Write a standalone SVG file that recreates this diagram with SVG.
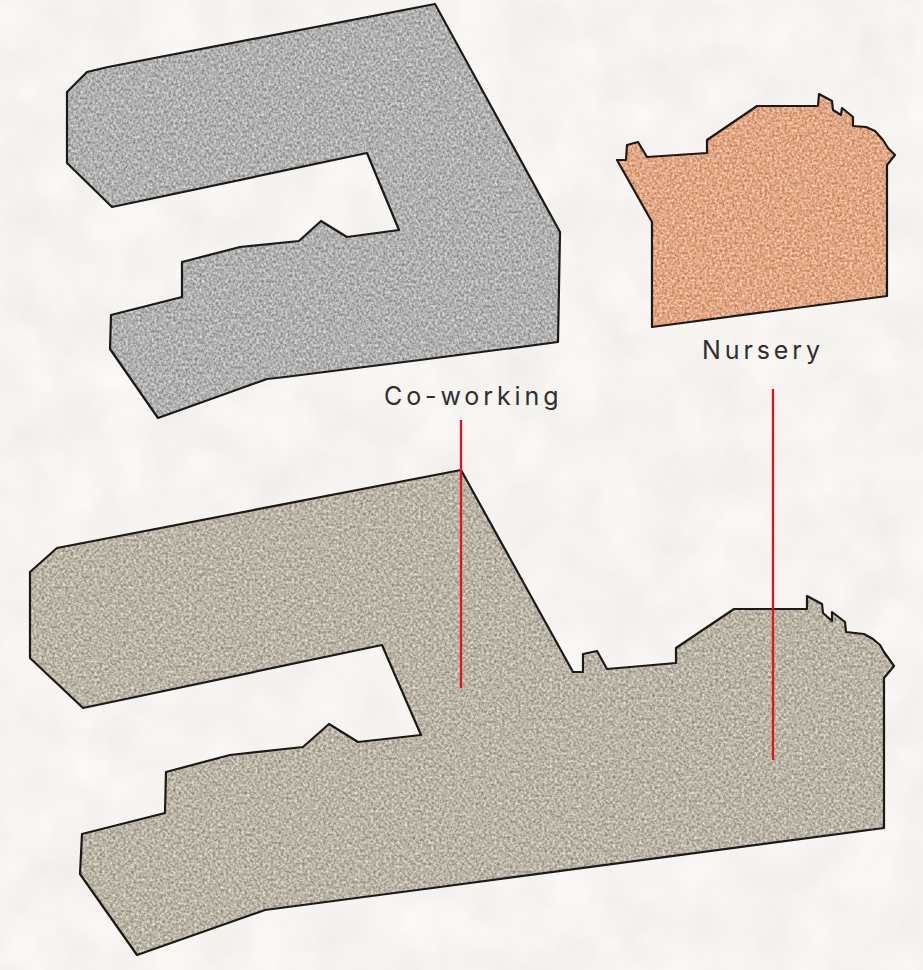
<svg xmlns="http://www.w3.org/2000/svg" width="923" height="970" viewBox="0 0 923 970">
<style>
.outline{fill:none;stroke:#1c1a18;stroke-width:2.2;stroke-linejoin:round}
.label{font-family:"Inter","Liberation Sans",sans-serif;font-size:25px;letter-spacing:3.9px;fill:#2e2e2e}
.leader{stroke:#e0141f;stroke-width:2.3;fill:none}
</style>
<defs>
<filter id="paper" x="0" y="0" width="1" height="1" color-interpolation-filters="sRGB">
<feTurbulence type="fractalNoise" baseFrequency="0.02" numOctaves="3" seed="4"/>
<feColorMatrix values="0.06 0 0 0 0.935  0.06 0 0 0 0.925  0.06 0 0 0 0.912  0 0 0 0 1"/>
</filter>
<filter id="texGrey" x="0" y="0" width="1" height="1" color-interpolation-filters="sRGB">
<feTurbulence type="fractalNoise" baseFrequency="0.42 0.36" numOctaves="3" seed="7"/>
<feGaussianBlur stdDeviation="0.6"/>
<feColorMatrix values="0.56 0 0 0 0.41  0.56 0 0 0 0.41  0.56 0 0 0 0.41  0 0 0 0 1" result="n"/>
<feComposite in="n" in2="SourceAlpha" operator="in"/>
</filter>
<filter id="texOrange" x="0" y="0" width="1" height="1" color-interpolation-filters="sRGB">
<feTurbulence type="fractalNoise" baseFrequency="0.4" numOctaves="3" seed="12"/>
<feGaussianBlur stdDeviation="0.6"/>
<feColorMatrix values="0.36 0 0 0 0.70  0.58 0 0 0 0.365  0.68 0 0 0 0.18  0 0 0 0 1" result="n"/>
<feComposite in="n" in2="SourceAlpha" operator="in"/>
</filter>
<filter id="texTaupe" x="0" y="0" width="1" height="1" color-interpolation-filters="sRGB">
<feTurbulence type="fractalNoise" baseFrequency="0.38" numOctaves="3" seed="21"/>
<feGaussianBlur stdDeviation="0.6"/>
<feColorMatrix values="0.56 0 0 0 0.45  0.56 0 0 0 0.425  0.56 0 0 0 0.37  0 0 0 0 1" result="n"/>
<feComposite in="n" in2="SourceAlpha" operator="in"/>
</filter>
<polygon id="shapeCoworking" points="435,4 560,232 558,342 420,360 285,377 267,379 158,418 110,349 111,315 182,297 182,262 240,247 299,241 321,221 347,237 399,230 367,153 112,207 67,163 67,92 87,72 108,67"/>
<polygon id="shapeNursery" points="617,160 626,160 627,145 638,142 647,157 707,153 707,140 757,106 818,106 819,94 832,101 833,110 841,115 842,108 853,117 853,126 866,127 875,131 883,140 888,148 895,155 887,165 887,296 652,327 652,222"/>
<polygon id="shapeCombined" points="461,470 573,672 583,672 583,654 597,651 607,669 676,663 676,648 734,609 807,609 807,596 822,604 823,613 832,621 832,612 845,622 846,632 864,634 873,639 880,645 884,652 894,666 884,678 884,828 440,887 265,910 137,955 80,874 82,834 165,813 166,772 230,755 303,747 329,724 358,742 421,735 382,645 83,708 30,658 30,572 57,548"/>
</defs>
<rect id="background" width="923" height="970" fill="#f5f3f1" filter="url(#paper)"/>
<g id="coworking">
<use href="#shapeCoworking" filter="url(#texGrey)"/>
<use href="#shapeCoworking" class="outline"/>
</g>
<g id="nursery">
<use href="#shapeNursery" filter="url(#texOrange)"/>
<use href="#shapeNursery" class="outline"/>
</g>
<g id="combined">
<use href="#shapeCombined" filter="url(#texTaupe)"/>
<use href="#shapeCombined" class="outline"/>
</g>
<g id="labels">
<text class="label" x="384" y="405">Co-working</text>
<text class="label" x="702" y="359">Nursery</text>
</g>
<g id="connectors">
<line class="leader" x1="461" y1="420" x2="461" y2="688"/>
<line class="leader" x1="773" y1="389" x2="773" y2="760"/>
</g>
</svg>
